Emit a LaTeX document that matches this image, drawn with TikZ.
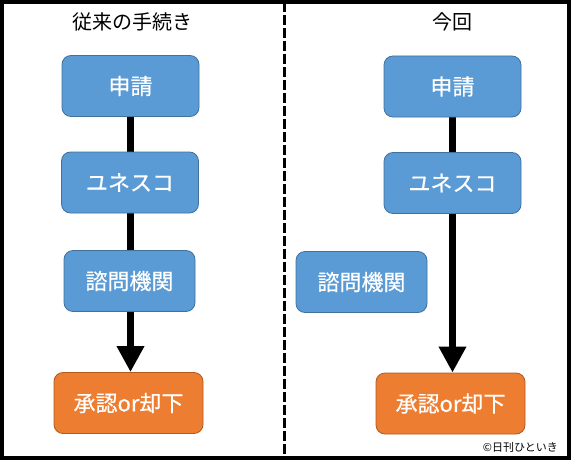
\documentclass[tikz,border=0pt]{standalone}
\usepackage{fontspec}
\newfontfamily\jp{Noto Sans CJK JP}
\newfontfamily\jpb[FakeBold=0.5]{Noto Sans CJK JP}
\usetikzlibrary{arrows.meta,backgrounds}
\definecolor{boxblue}{HTML}{5B9BD5}
\definecolor{boxblueline}{HTML}{41719C}
\definecolor{boxorange}{HTML}{ED7D31}
\definecolor{boxorangeline}{HTML}{AE5A21}
\tikzset{
  flowbox/.style={rounded corners=9pt, draw=boxblueline, fill=boxblue, line width=0.8pt,
    text=white, font=\jpb\fontsize{22}{22}\selectfont, minimum width=137pt,
    minimum height=61pt, inner sep=0pt},
  okbox/.style={flowbox, fill=boxorange, draw=boxorangeline, minimum width=149pt},
  titletext/.style={font=\jp\fontsize{20}{20}\selectfont, inner sep=0pt},
  flowarrow/.style={line width=7.5pt, -{Triangle[width=26pt,length=26pt]}},
  divider/.style={line width=3pt, dash pattern=on 10pt off 3pt},
  frame/.style={line width=4pt}
}
\begin{document}
\begin{tikzpicture}[x=1pt,y=-1pt]
\useasboundingbox (0,0) rectangle (573,460);
\draw[frame] (2,2) rectangle (569,458);
\coordinate (divtop) at (284.5,2);
\coordinate (divbot) at (284.5,458);
\draw[divider] (divtop) -- (divbot);

\node[titletext] (t1) at (132,22) {従来の手続き};
\node[titletext] (t2) at (452,22) {今回};

% left column
\node[flowbox] (l1) at (130.5,86) {申請};
\node[flowbox] (l2) at (130,182.5) {ユネスコ};
\node[flowbox, minimum width=131pt] (l3) at (129.5,281) {諮問機関};
\node[okbox] (l4) at (128.5,403) {承認or却下};

% right column
\node[flowbox] (r1) at (452.5,86.5) {申請};
\node[flowbox] (r2) at (452.5,183) {ユネスコ};
\node[flowbox, minimum width=131pt] (r3) at (361.5,282) {諮問機関};
\node[okbox] (r4) at (450.5,403.5) {承認or却下};

\begin{pgfonlayer}{background}
\draw[flowarrow] (l1.south) -- (l1.south |- l4.north);
\draw[flowarrow] (r1.south) -- (r1.south |- r4.north);
\end{pgfonlayer}

\node[font=\jp\fontsize{11}{11}\selectfont, inner sep=0pt, anchor=east] (copy) at (558,447.5) {©日刊ひといき};
\end{tikzpicture}
\end{document}
